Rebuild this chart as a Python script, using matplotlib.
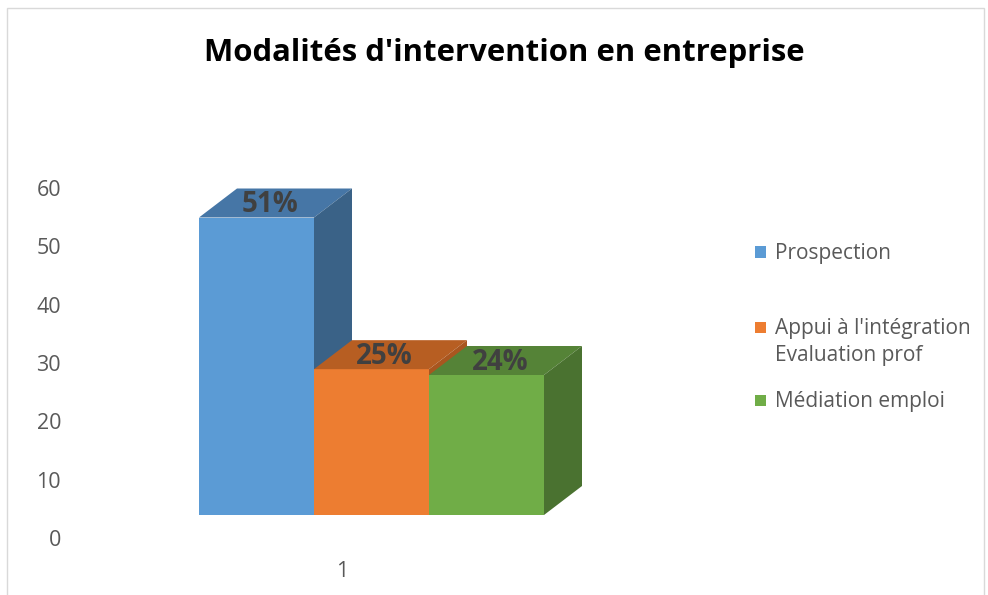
import matplotlib
matplotlib.use("Agg")
import matplotlib.pyplot as plt
import matplotlib.transforms as mtransforms
from matplotlib.patches import Polygon, Rectangle
import numpy as np

plt.rcParams['font.family'] = ['Open Sans', 'DejaVu Sans']

# data
categories = ["Prospection", "Appui à l'intégration\nEvaluation prof", "Médiation emploi"]
values = [51, 25, 24]
labels = ["51%", "25%", "24%"]
yticks = [0, 10, 20, 30, 40, 50, 60]
front_colors = ["#5B9BD5", "#ED7D31", "#70AD47"]
top_colors = ["#4676A6", "#B75E22", "#558337"]
side_colors = ["#3A6287", "#A9561F", "#4A7230"]

W, H = 988, 595
fig = plt.figure(figsize=(W / 100, H / 100), dpi=100)

# axes placed in pixel coords
ax_l, ax_r, ax_b, ax_t = 75, 700, H - 515, H - 165
ax = fig.add_axes([ax_l / W, ax_b / H, (ax_r - ax_l) / W, (ax_t - ax_b) / H])
px_x = 115.0          # pixels per bar
px_y = 350.0 / 60     # pixels per unit
x0 = -(199 - ax_l) / px_x
ax.set_xlim(x0, x0 + (ax_r - ax_l) / px_x)
ax.set_ylim(0, 60)

# 3d depth offsets (data units)
dx = 38 / px_x
dy = 29 / px_y

xs = np.arange(len(values))
for i, v in enumerate(values):
    ax.bar(xs[i], v, width=1.0, align='edge', color=front_colors[i], zorder=2 + i)
    top = Polygon([(xs[i], v), (xs[i] + 1, v), (xs[i] + 1 + dx, v + dy), (xs[i] + dx, v + dy)],
                  closed=True, facecolor=top_colors[i], edgecolor='none', zorder=2 + i)
    side = Polygon([(xs[i] + 1, 0), (xs[i] + 1 + dx, dy), (xs[i] + 1 + dx, v + dy), (xs[i] + 1, v)],
                   closed=True, facecolor=side_colors[i], edgecolor='none', zorder=2 + i)
    ax.add_patch(top)
    ax.add_patch(side)
    ax.text(xs[i] + 0.45 + dx / 2, v + dy / 2 - 0.3, labels[i], ha='center', va='center',
            fontsize=20, fontweight='bold', color='#404040', zorder=10)

for s in ax.spines.values():
    s.set_visible(False)
ax.set_yticks(yticks)
ax.tick_params(axis='y', length=0, pad=10, labelsize=15.5, labelcolor='#595959')
ax.set_xticks([(342 - 199) / px_x])
ax.set_xticklabels(["1"])
ax.tick_params(axis='x', length=0, pad=33, labelsize=15.5, labelcolor='#595959')
offset = mtransforms.ScaledTranslation(0, -23 / 100, fig.dpi_scale_trans)
for lab in ax.get_yticklabels():
    lab.set_transform(lab.get_transform() + offset)

# title
fig.text(504 / W, 1 - 53 / H, "Modalités d'intervention en entreprise", ha='center', va='center',
         fontsize=22.4, fontweight='bold', color='black')

# legend
leg_y = [252, 327, 400]
for i, name in enumerate(categories):
    fig.patches.append(Rectangle((755 / W, 1 - (leg_y[i] + 5.5) / H), 11 / W, 11 / H,
                                 transform=fig.transFigure, facecolor=front_colors[i],
                                 edgecolor='none'))
    fig.text(775 / W, 1 - (leg_y[i] - 9) / H, name, ha='left', va='top', fontsize=15,
             color='#595959', linespacing=1.4)

# chart border
fig.patches.append(Rectangle((7 / W, -0.05), 977 / W, 1.05 - 8 / H, transform=fig.transFigure,
                             facecolor='none', edgecolor='#D9D9D9', linewidth=1))

fig.savefig("out.png", dpi=100)
